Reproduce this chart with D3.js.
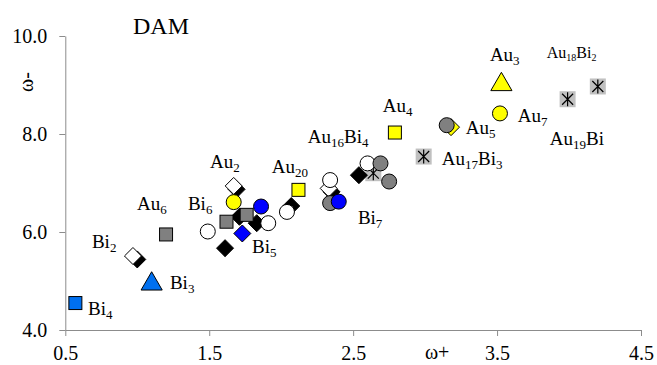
<!DOCTYPE html>
<html><head><meta charset="utf-8">
<script src="https://cdn.jsdelivr.net/npm/d3@7"></script>
<style>
body{margin:0;background:#fff}
text{font-family:"Liberation Serif","Times New Roman",serif;fill:#000}
</style>
</head><body>
<svg id="chart" width="657" height="365"></svg>
<script>
// axis ticks
const xTicks = [0.5, 1.5, 2.5, 3.5, 4.5];
const yTicks = [4, 6, 8, 10];

// [omega+, omega-] for each cluster, grouped by marker style
const whiteCircles   = [[1.49, 6.01], [1.91, 6.18], [2.04, 6.41], [2.34, 7.06], [2.60, 7.40]];
const grayCircles    = [[2.34, 6.59], [2.69, 7.40], [2.75, 7.03], [3.15, 8.18]];
const blueCircles    = [[1.86, 6.52], [2.40, 6.62]];
const yellowCircles  = [[1.67, 6.61], [3.52, 8.42]];
const blackDiamonds  = [[1.00, 5.44], [1.69, 6.87], [2.35, 6.82], [1.61, 5.67], [1.71, 6.31], [1.83, 6.18], [2.07, 6.53], [2.54, 7.16]];
const whiteDiamonds  = [[0.97, 5.51], [1.67, 6.94], [2.33, 6.89]];
const yellowDiamonds = [[3.18, 8.14]];
const blueDiamonds   = [[1.73, 5.97]];
const graySquares    = [[1.20, 5.95], [1.62, 6.21], [1.76, 6.35]];
const yellowSquares  = [[2.79, 8.03], [2.12, 6.86]];
const blueSquares    = [[0.57, 4.55]];
const blueTriangles  = [[1.10, 4.94]];
const yellowTriangles= [[3.53, 9.01]];
const starSquares    = [[2.64, 7.20], [2.99, 7.54], [3.99, 8.71], [4.20, 8.97]];

// cluster names ("_n" = subscript) and where they sit, in axis units
const labelNames = ["Bi_4", "Bi_3", "Bi_2", "Au_6", "Bi_6", "Au_2", "Au_20", "Bi_5", "Bi_7",
                    "Au_16Bi_4", "Au_4", "Au_17Bi_3", "Au_5", "Au_7", "Au_3", "Au_18Bi_2", "Au_19Bi"];
const labelAt = [[0.658, 4.306], [1.227, 4.83], [0.685, 5.667], [0.998, 6.449], [1.352, 6.449],
                 [1.505, 7.30], [1.935, 7.198], [1.797, 5.565], [2.533, 6.163], [2.185, 7.81],
                 [2.706, 8.455], [3.116, 7.367], [3.283, 8.0], [3.644, 8.251], [3.45, 9.496],
                 [3.845, 9.545], [3.866, 7.776]];

const svg = d3.select("#chart");
const x = d3.scaleLinear().domain([0.5, 4.5]).range([65.3, 641]);
const y = d3.scaleLinear().domain([4, 10]).range([330, 36]);
const axisColor = "#8c8c8c";

// axes
const gx = svg.append("g").attr("transform", `translate(0,${y(4)})`)
  .call(d3.axisBottom(x).tickValues(xTicks).tickFormat(d3.format(".1f")).tickSize(6).tickSizeOuter(0).tickPadding(10));
const gy = svg.append("g").attr("transform", `translate(${x(0.5)},0)`)
  .call(d3.axisLeft(y).tickValues(yTicks).tickFormat(d3.format(".1f")).tickSize(6).tickSizeOuter(0).tickPadding(12));
[gx, gy].forEach(g => {
  g.select(".domain").attr("stroke", axisColor);
  g.selectAll(".tick line").attr("stroke", axisColor);
  g.selectAll(".tick text").style("font-family", '"Liberation Serif",serif').style("font-size", "20px").attr("fill", "#000");
});

// axis titles and chart title
svg.append("text").attr("x", x(3.0) + 12).attr("y", 359).attr("text-anchor", "middle")
  .style("font-size", "20px").text("ω+");
svg.append("text").attr("transform", "translate(33,82) rotate(-90)").attr("text-anchor", "middle")
  .style("font-size", "20px").text("ω-");
svg.append("text").attr("x", 133).attr("y", 34).style("font-size", "24px").text("DAM");

// marker painters
const plot = svg.append("g");
function circles(data, fill) {
  plot.append("g").selectAll("circle").data(data).join("circle")
    .attr("cx", d => x(d[0])).attr("cy", d => y(d[1])).attr("r", 7.5)
    .attr("fill", fill).attr("stroke", "#000").attr("stroke-width", 1);
}
function squares(data, fill, side) {
  plot.append("g").selectAll("rect").data(data).join("rect")
    .attr("x", d => x(d[0]) - side / 2).attr("y", d => y(d[1]) - side / 2)
    .attr("width", side).attr("height", side)
    .attr("fill", fill).attr("stroke", "#000").attr("stroke-width", 1);
}
function diamonds(data, fill) {
  const h = 8.5;
  plot.append("g").selectAll("path").data(data).join("path")
    .attr("d", d => {
      const cx = x(d[0]), cy = y(d[1]);
      return `M${cx},${cy - h}L${cx + h},${cy}L${cx},${cy + h}L${cx - h},${cy}Z`;
    })
    .attr("fill", fill).attr("stroke", "#000").attr("stroke-width", 1);
}
function triangles(data, fill) {
  const r = 6.1, w = r * Math.sqrt(3);
  plot.append("g").selectAll("path").data(data).join("path")
    .attr("d", d => {
      const cx = x(d[0]), cy = y(d[1]);
      return `M${cx},${cy - 2 * r}L${cx + w},${cy + r}L${cx - w},${cy + r}Z`;
    })
    .attr("fill", fill).attr("stroke", "#000").attr("stroke-width", 1);
}
function stars(data) {
  const g = plot.append("g").selectAll("g").data(data).join("g")
    .attr("transform", d => `translate(${x(d[0])},${y(d[1])})`);
  g.append("rect").attr("x", -8).attr("y", -8).attr("width", 16).attr("height", 16).attr("fill", "#c0c0c0");
  g.append("path").attr("d", "M0,-7V7M-5.5,-5.5L5.5,5.5M-5.5,5.5L5.5,-5.5")
    .attr("stroke", "#000").attr("stroke-width", 1.2).attr("fill", "none");
}

stars(starSquares);
diamonds(blackDiamonds, "#000");
diamonds(whiteDiamonds, "#fff");
diamonds(yellowDiamonds, "#ffff00");
squares(graySquares, "#808080", 13);
circles(whiteCircles, "#fff");
circles(grayCircles, "#808080");
diamonds(blueDiamonds, "#0000ff");
circles(blueCircles, "#0000ff");
circles(yellowCircles, "#ffff00");
squares(yellowSquares, "#ffff00", 13);
triangles(blueTriangles, "#0070f0");
triangles(yellowTriangles, "#ffff00");
squares(blueSquares, "#0070f0", 13);

// cluster labels with subscripts
labelNames.forEach((name, i) => {
  const small = name === "Au_18Bi_2";
  const t = svg.append("text")
    .attr("x", x(labelAt[i][0])).attr("y", y(labelAt[i][1]))
    .style("font-size", small ? "16px" : "19px");
  const parts = name.split(/_(\d+)/);
  let lowered = false;
  parts.forEach((p, j) => {
    if (!p) return;
    const isSub = j % 2 === 1;
    const ts = t.append("tspan").text(p);
    if (isSub) {
      ts.style("font-size", small ? "10px" : "13px").attr("dy", lowered ? 0 : "0.3em");
      lowered = true;
    } else {
      ts.attr("dy", lowered ? (small ? "-0.19em" : "-0.2em") : 0);
      lowered = false;
    }
  });
});
</script>
</body></html>
